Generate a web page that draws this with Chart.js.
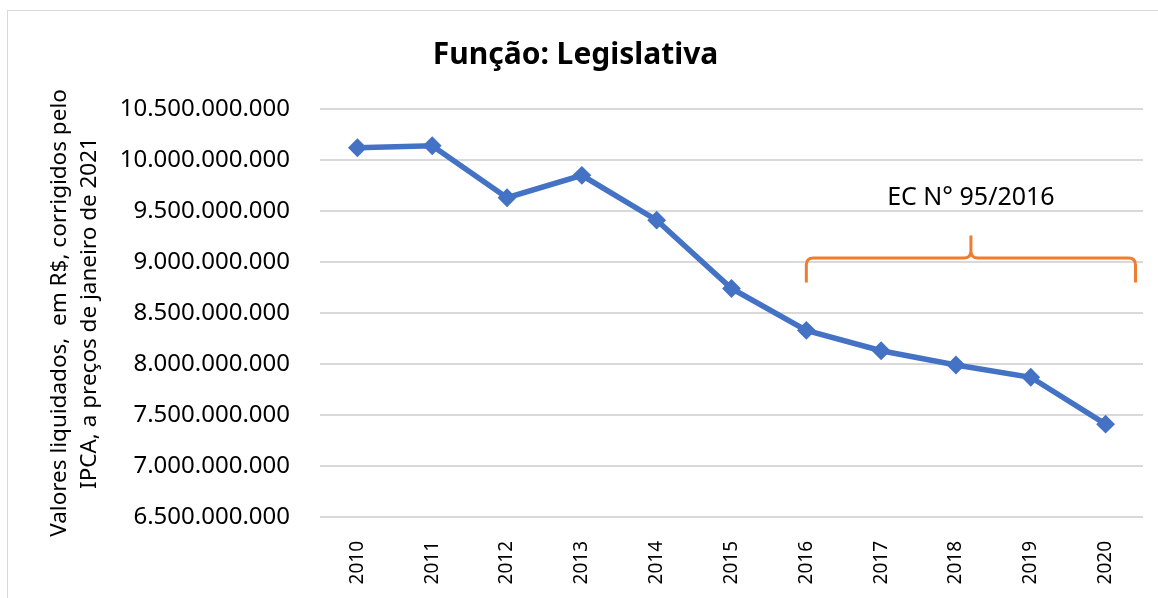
<!DOCTYPE html>
<html>
<head>
<meta charset="utf-8">
<script src="https://cdn.jsdelivr.net/npm/chart.js@4.4.1/dist/chart.umd.min.js"></script>
<style>
  html, body { margin: 0; padding: 0; background: #fff; }
  #wrap { position: relative; width: 1158px; height: 598px; }
  #frame { position: absolute; left: 7px; top: 10px; width: 1200px; height: 650px; border: 1px solid #d9d9d9; box-sizing: border-box; }
  canvas { position: absolute; left: 0; top: 0; }
</style>
</head>
<body>
<div id="wrap">
  <div id="frame"></div>
  <canvas id="chart" width="1158" height="598"></canvas>
</div>
<script>
const years = ["2010", "2011", "2012", "2013", "2014", "2015", "2016", "2017", "2018", "2019", "2020"];
const valores = [
  10120000000, 10140000000, 9630000000, 9850000000, 9410000000,
  8740000000, 8330000000, 8130000000, 7990000000, 7870000000, 7410000000
];
const yTicks = [6500000000, 7000000000, 7500000000, 8000000000, 8500000000, 9000000000, 9500000000, 10000000000, 10500000000];

// brace annotation (category index / value units)
const braceLabel = "EC N° 95/2016";
const braceFrom = 6;
const braceTo = 10.4;
const braceLevel = 9040000000;
const braceFoot = 8800000000;
const braceTip = 9260000000;
const braceTextLevel = 9630000000;

const fmt = (v) => v.toLocaleString("de-DE");

const bracePlugin = {
  id: "brace",
  afterDatasetsDraw(chart) {
    const { ctx, scales: { x, y } } = chart;
    const x0 = x.getPixelForValue(braceFrom);
    const x1 = x.getPixelForValue(braceTo);
    const xm = (x0 + x1) / 2;
    const yl = y.getPixelForValue(braceLevel);
    const yf = y.getPixelForValue(braceFoot);
    const yt = y.getPixelForValue(braceTip);
    const r = 7;
    ctx.save();
    ctx.strokeStyle = "#ED7D31";
    ctx.lineWidth = 3;
    ctx.lineJoin = "round";
    ctx.beginPath();
    ctx.moveTo(x0, yf);
    ctx.lineTo(x0, yl + r);
    ctx.quadraticCurveTo(x0, yl, x0 + r, yl);
    ctx.lineTo(xm - r, yl);
    ctx.quadraticCurveTo(xm, yl, xm, yl - r);
    ctx.lineTo(xm, yt);
    ctx.moveTo(xm, yl - r);
    ctx.quadraticCurveTo(xm, yl, xm + r, yl);
    ctx.lineTo(x1 - r, yl);
    ctx.quadraticCurveTo(x1, yl, x1, yl + r);
    ctx.lineTo(x1, yf);
    ctx.stroke();
    ctx.fillStyle = "#000";
    ctx.font = "25px 'Noto Sans'";
    ctx.textAlign = "center";
    ctx.textBaseline = "middle";
    ctx.fillText(braceLabel, xm, y.getPixelForValue(braceTextLevel));
    ctx.restore();
  }
};

new Chart(document.getElementById("chart"), {
  type: "line",
  data: {
    labels: years,
    datasets: [
      {
        label: "Função: Legislativa",
        data: valores,
        borderColor: "#4472C4",
        backgroundColor: "#4472C4",
        borderWidth: 5.5,
        pointStyle: "rectRot",
        pointRadius: 8,
        pointBorderWidth: 2,
        pointHoverRadius: 8,
        tension: 0,
      },
    ],
  },
  options: {
    responsive: false,
    animation: false,
    layout: { padding: { left: 8, right: 15, top: 10, bottom: 0 } },
    plugins: {
      legend: { display: false },
      tooltip: { enabled: false },
      title: {
        display: true,
        text: "Função: Legislativa",
        color: "#000",
        font: { family: "'Noto Sans'", size: 30, weight: "bold" },
        padding: { top: 27, bottom: 36 },
      },
    },
    scales: {
      x: {
        offset: true,
        grid: { display: false },
        border: { display: false },
        ticks: {
          color: "#000",
          font: { family: "'Noto Sans'", size: 19 },
          minRotation: 90,
          maxRotation: 90,
          padding: 16,
        },
        afterFit: (s) => { s.height = 81; },
      },
      y: {
        min: 6500000000,
        max: 10500000000,
        afterBuildTicks: (s) => { s.ticks = yTicks.map((v) => ({ value: v })); },
        grid: { color: "#d9d9d9", lineWidth: 2, drawTicks: false },
        border: { display: false },
        ticks: {
          color: "#000",
          font: { family: "'Noto Sans'", size: 24 },
          padding: 30,
          callback: (v) => fmt(v),
        },
        title: {
          display: true,
          text: ["Valores liquidados,  em R$, corrigidos pelo", "IPCA, a preços de janeiro de 2021"],
          color: "#000",
          font: { family: "'Noto Sans'", size: 22.5, lineHeight: 1.33 },
          padding: { top: 37, bottom: 0 },
        },
        afterFit: (s) => { s.width = 312; },
      },
    },
  },
  plugins: [bracePlugin],
});
</script>
</body>
</html>
